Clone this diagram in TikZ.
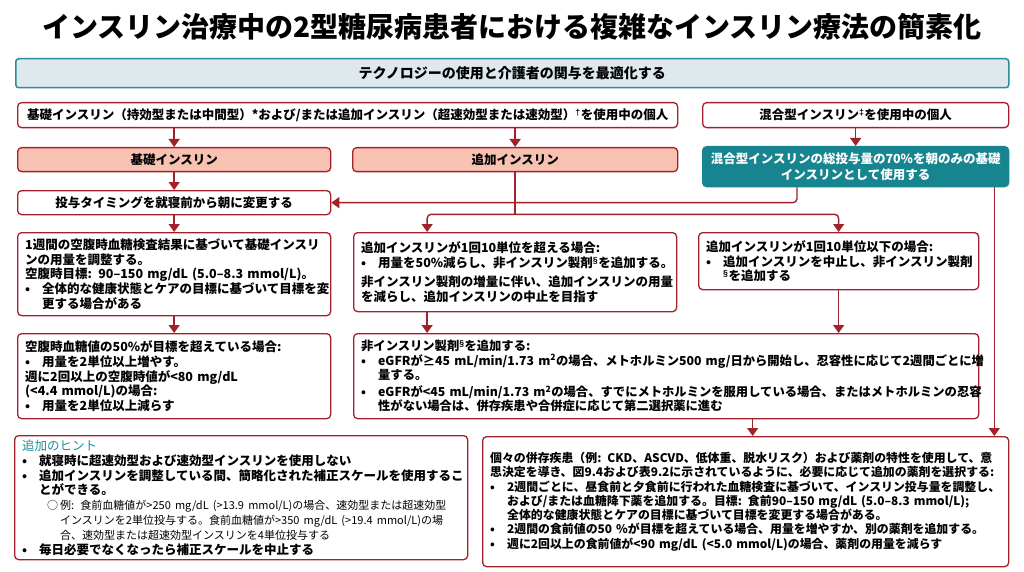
\documentclass[tikz,border=0pt]{standalone}
\usepackage{fontspec}
\setmainfont{Noto Sans CJK JP}
\newfontfamily\symfont{Liberation Sans}
\usepackage{tikz}
\usetikzlibrary{arrows.meta,calc}
\definecolor{dred}{HTML}{A3212B}
\definecolor{salmon}{HTML}{F7C2B2}
\definecolor{tealbox}{HTML}{16858F}
\definecolor{tealline}{HTML}{2B8D97}
\definecolor{bannerfill}{HTML}{DFE9ED}
\definecolor{hintteal}{HTML}{1F8E9B}
\newcommand{\bodyfont}{\fontsize{12.5}{14.8}\selectfont\bfseries}
\newcommand{\bul}{\makebox[17pt][l]{•}}
\newcommand{\cont}{\hspace*{17pt}}
\newcommand{\subbul}{\hspace*{25pt}\makebox[13pt][l]{○}}
\newcommand{\subcont}{\hspace*{38pt}}
\newcommand{\fnmark}[1]{\textsuperscript{\symfont #1}}

\begin{document}
\begin{tikzpicture}[x=1pt, y=-1pt, >={Triangle[width=11pt,length=8pt]},
    box/.style={draw=dred, line width=1.3pt, rounded corners=4pt, fill=white, anchor=north west,
      inner xsep=7.5pt, inner ysep=2pt, align=left, font=\bodyfont},
    headbox/.style={box, align=center},
    link/.style={draw=dred, line width=1.4pt, ->}]
  \useasboundingbox (0,0) rectangle (1024,572);
  \fill[white] (0,0) rectangle (1024,572);

  % title and banner
  \node[font=\fontsize{28}{32}\selectfont\bfseries] (title) at (512,27)
    {インスリン治療中の2型糖尿病患者における複雑なインスリン療法の簡素化};
  \node[draw=tealline, fill=bannerfill, line width=1.5pt, rounded corners=3pt, anchor=north west,
    minimum width=993pt, minimum height=29pt, font=\fontsize{14}{16}\selectfont\bfseries] (banner) at (15,58)
    {テクノロジーの使用と介護者の関与を最適化する};

  % top row
  \node[headbox, text width=645pt, minimum height=25pt] (topL) at (17,102)
    {基礎インスリン（持効型または中間型）*および/または追加インスリン（超速効型または速効型）\fnmark{†}を使用中の個人};
  \node[headbox, text width=291pt, minimum height=25pt] (topR) at (702,102)
    {混合型インスリン\fnmark{‡}を使用中の個人};

  % second row
  \node[headbox, fill=salmon, text width=298pt, minimum height=24pt] (basal) at (17,147) {基礎インスリン};
  \node[headbox, fill=salmon, text width=310pt, minimum height=24pt] (bolus) at (352,147) {追加インスリン};
  \node[headbox, fill=tealbox, draw=tealbox, text=white, text width=291pt, minimum height=40pt,
    font=\fontsize{12.5}{15.5}\selectfont\bfseries] (premix) at (702,146)
    {混合型インスリンの総投与量の70\%を朝のみの基礎\\インスリンとして使用する};
  \node[headbox, text width=298pt, minimum height=24pt] (timing) at (17,190) {投与タイミングを就寝前から朝に変更する};

  % left column
  \node[box, text width=298pt, minimum height=83pt] (fastAdj) at (17,232)
    {1週間の空腹時血糖検査結果に基づいて基礎インスリ\\
     ンの用量を調整する。\\
     空腹時目標: 90–150 mg/dL (5.0–8.3 mmol/L)。\\
     \bul 全体的な健康状態とケアの目標に基づいて目標を変\\
     \cont 更する場合がある};
  \node[box, text width=298pt, minimum height=85pt] (fastRule) at (17,333)
    {空腹時血糖値の50\%が目標を超えている場合:\\
     \bul 用量を2単位以上増やす。\\
     週に2回以上の空腹時値が<80 mg/dL\\
     (<4.4 mmol/L)の場合:\\
     \bul 用量を2単位以上減らす};

  % middle and right
  \node[box, text width=308pt, minimum height=79pt] (bolusHigh) at (353,232)
    {追加インスリンが1回10単位を超える場合:\\
     \bul 用量を50\%減らし、非インスリン製剤\fnmark{§}を追加する。\\[4pt]
     非インスリン製剤の増量に伴い、追加インスリンの用量\\
     を減らし、追加インスリンの中止を目指す};
  \node[box, text width=265pt, minimum height=57pt] (bolusLow) at (698,232)
    {追加インスリンが1回10単位以下の場合:\\
     \bul 追加インスリンを中止し、非インスリン製剤\\
     \cont \fnmark{§}を追加する};
  \node[box, text width=610pt, minimum height=85pt, font=\fontsize{12.3}{14.6}\selectfont\bfseries] (nonIns) at (353,333)
    {非インスリン製剤\fnmark{§}を追加する:\\
     \bul eGFRが≥45 mL/min/1.73 m\textsuperscript{2}の場合、メトホルミン500 mg/日から開始し、忍容性に応じて2週間ごとに増\\
     \cont 量する。\\[2pt]
     \bul eGFRが<45 mL/min/1.73 m\textsuperscript{2}の場合、すでにメトホルミンを服用している場合、またはメトホルミンの忍容\\
     \cont 性がない場合は、併存疾患や合併症に応じて第二選択薬に進む};

  % bottom row
  \node[box, text width=438pt, minimum height=124pt] (hints) at (14,435)
    {{\color{hintteal}\mdseries 追加のヒント}\\
     \bul 就寝時に超速効型および速効型インスリンを使用しない\\
     \bul 追加インスリンを調整している間、簡略化された補正スケールを使用するこ\\
     \cont とができる。\\
     {\fontsize{11}{13}\selectfont\mdseries\subbul 例: 食前血糖値が>250 mg/dL (>13.9 mmol/L)の場合、速効型または超速効型}\\
     {\fontsize{11}{13}\selectfont\mdseries\subcont インスリンを2単位投与する。食前血糖値が>350 mg/dL (>19.4 mmol/L)の場}\\
     {\fontsize{11}{13}\selectfont\mdseries\subcont 合、速効型または超速効型インスリンを4単位投与する}\\
     \bul 毎日必要でなくなったら補正スケールを中止する};
  \node[box, text width=511pt, minimum height=130pt, font=\fontsize{11.9}{14.3}\selectfont\bfseries] (indiv) at (482,436)
    {個々の併存疾患（例: CKD、ASCVD、低体重、脱水リスク）および薬剤の特性を使用して、意\\
     思決定を導き、図9.4および表9.2に示されているように、必要に応じて追加の薬剤を選択する:\\
     \bul 2週間ごとに、昼食前と夕食前に行われた血糖検査に基づいて、インスリン投与量を調整し、\\
     \cont および/または血糖降下薬を追加する。目標: 食前90–150 mg/dL (5.0–8.3 mmol/L);\\
     \cont 全体的な健康状態とケアの目標に基づいて目標を変更する場合がある。\\
     \bul 2週間の食前値の50 \%が目標を超えている場合、用量を増やすか、別の薬剤を追加する。\\
     \bul 週に2回以上の食前値が<90 mg/dL (<5.0 mmol/L)の場合、薬剤の用量を減らす};

  % connectors
  \coordinate (split) at ($(bolus.south)+(0,42)$);
  \coordinate (highIn) at ($(bolusHigh.north)+(-88,0)$);
  \coordinate (highOut) at ($(bolusHigh.south)+(-88,0)$);
  \coordinate (mixL) at ($(premix.south west)+(95,0)$);
  \coordinate (mixR) at ($(premix.south east)+(-15,0)$);
  \coordinate (nonOut) at ($(indiv.north)+(7,0)$);
  \draw[link] (topL.south -| basal.north) -- (basal.north);
  \draw[link] (topL.south -| bolus.north) -- (bolus.north);
  \draw[link] (topR) -- (premix);
  \draw[link] (basal) -- (timing);
  \draw[link, rounded corners=4pt] (mixL) |- (timing.east);
  \draw[link] (timing) -- (fastAdj);
  \draw[link] (fastAdj) -- (fastRule);
  \draw[link, -] (bolus.south) -- (split);
  \draw[link, rounded corners=4pt] (split) -| (highIn);
  \draw[link, rounded corners=4pt] (split) -| (bolusLow.north);
  \draw[link] (highOut) -- (highOut |- nonIns.north);
  \draw[link] (bolusLow.south) -- (bolusLow.south |- nonIns.north);
  \draw[link] (nonOut |- nonIns.south) -- (nonOut);
  \draw[link] (mixR) -- (mixR |- indiv.north);
\end{tikzpicture}
\end{document}
